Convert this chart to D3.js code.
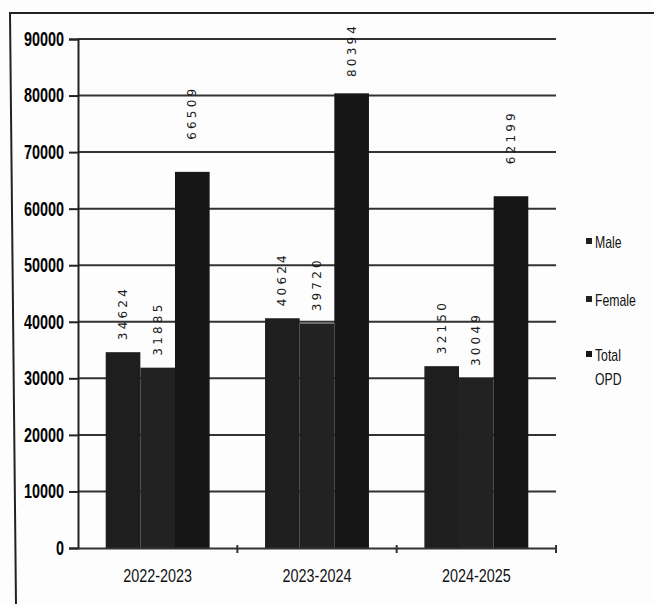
<!DOCTYPE html>
<html>
<head>
<meta charset="utf-8">
<script src="https://cdn.jsdelivr.net/npm/d3@7"></script>
<style>
  body { margin: 0; background: #fff; }
  svg { display: block; }
  .lbl { font-family: "Liberation Sans", Arial, sans-serif; }
</style>
</head>
<body>
<div id="chart"></div>
<script>
"use strict"

// chart data
var years = ["2022-2023", "2023-2024", "2024-2025"];
var series = ["Male", "Female", "Total OPD"];
var male = [34624, 40624, 32150];
var female = [31885, 39720, 30049];
var totalOpd = [66509, 80394, 62199];
var yTicks = [0, 10000, 20000, 30000, 40000, 50000, 60000, 70000, 80000, 90000];
var seriesColors = ["#1e1e1e", "#222222", "#161616"];

var width = 654, height = 604;
var plotLeft = 78, plotRight = 556, plotTop = 39, plotBottom = 548;

// squeeze text horizontally, the scan uses a narrow face
function condense(sel, k) {
    sel.each(function () {
        var len = this.getComputedTextLength();
        d3.select(this).attr("textLength", len * k).attr("lengthAdjust", "spacingAndGlyphs");
    });
}

var svg = d3.select("#chart").append("svg")
    .attr("width", width).attr("height", height);

svg.append("rect").attr("width", width).attr("height", height).attr("fill", "#fdfdfd");

// outer frame of the scanned figure
svg.append("path")
    .attr("d", "M 16 " + (height + 2) + " L 10 13 L " + (width + 2) + " 13")
    .attr("fill", "none").attr("stroke", "#222").attr("stroke-width", 2);

var y = d3.scaleLinear().domain([0, 90000]).range([plotBottom, plotTop]);
var x0 = d3.scaleBand().domain(years).range([plotLeft, plotRight]).padding(0);
var x1 = d3.scaleBand().domain(series).range([0, x0.bandwidth()]).paddingInner(0).paddingOuter(0.8);

// gridlines
svg.append("g").selectAll("line").data(yTicks.slice(1)).join("line")
    .attr("x1", plotLeft).attr("x2", plotRight)
    .attr("y1", function (d) { return y(d); }).attr("y2", function (d) { return y(d); })
    .attr("stroke", "#333").attr("stroke-width", 2);

// bars
var rows = years.map(function (yr, i) {
    return { year: yr, values: [male[i], female[i], totalOpd[i]] };
});

var groups = svg.append("g").selectAll("g").data(rows).join("g")
    .attr("transform", function (d) { return "translate(" + x0(d.year) + ",0)"; });

groups.selectAll("rect").data(function (d) {
        return d.values.map(function (v, j) { return { key: series[j], value: v, j: j }; });
    }).join("rect")
    .attr("x", function (d) { return x1(d.key); })
    .attr("width", x1.bandwidth())
    .attr("y", function (d) { return y(d.value); })
    .attr("height", function (d) { return plotBottom - y(d.value); })
    .attr("fill", function (d) { return seriesColors[d.j]; });

// value labels, rotated
groups.selectAll("text").data(function (d) {
        return d.values.map(function (v, j) { return { key: series[j], value: v, j: j }; });
    }).join("text")
    .attr("transform", function (d) {
        var gap = d.j === 2 ? 32 : 12;
        var yy = Math.max(y(d.value) - gap, 77);
        return "translate(" + (x1(d.key) + x1.bandwidth() / 2 + 4) + "," + yy + ") rotate(-90)";
    })
    .attr("font-family", "'DejaVu Sans', sans-serif")
    .attr("font-size", 12)
    .attr("letter-spacing", 3.2)
    .attr("fill", "#1a1a1a")
    .text(function (d) { return d.value; });

// y axis
var yAxis = d3.axisLeft(y).tickValues(yTicks).tickSize(9).tickPadding(5).tickFormat(d3.format("d"));
var gy = svg.append("g").attr("transform", "translate(" + plotLeft + ",0)").call(yAxis);
gy.select(".domain").attr("stroke", "#222").attr("stroke-width", 2);
gy.selectAll(".tick line").attr("stroke", "#222").attr("stroke-width", 2);
gy.selectAll("text").attr("class", "lbl").attr("font-size", 20).attr("fill", "#000")
    .attr("font-weight", "bold").call(condense, 0.72);

// x axis
var xAxis = d3.axisBottom(x0).tickSize(0).tickPadding(21);
var gx = svg.append("g").attr("transform", "translate(0," + plotBottom + ")").call(xAxis);
gx.select(".domain").attr("stroke", "#333").attr("stroke-width", 2);
gx.selectAll("text").attr("class", "lbl").attr("font-size", 18).attr("fill", "#111")
    .call(condense, 0.8);
gx.append("g").selectAll("line").data(years).join("line")
    .attr("x1", function (d) { return x0(d) + x0.bandwidth(); })
    .attr("x2", function (d) { return x0(d) + x0.bandwidth(); })
    .attr("y1", -3).attr("y2", 5)
    .attr("stroke", "#333").attr("stroke-width", 2);

// legend
var legendY = [242, 300, 355];
var legend = svg.append("g").selectAll("g").data(series).join("g")
    .attr("transform", function (d, i) { return "translate(586," + legendY[i] + ")"; });
legend.append("rect").attr("x", 0).attr("y", -4).attr("width", 6).attr("height", 6)
    .attr("fill", function (d, i) { return seriesColors[i]; });
legend.append("text").attr("class", "lbl").attr("x", 9).attr("y", 6)
    .attr("font-size", 17).attr("fill", "#111")
    .each(function (d) {
        var words = d.split(" ");
        var t = d3.select(this);
        words.forEach(function (w, k) {
            t.append("tspan").attr("x", 9).attr("dy", k === 0 ? 0 : 24).text(w);
        });
    });
legend.selectAll("tspan").call(condense, 0.72);
</script>
</body>
</html>
